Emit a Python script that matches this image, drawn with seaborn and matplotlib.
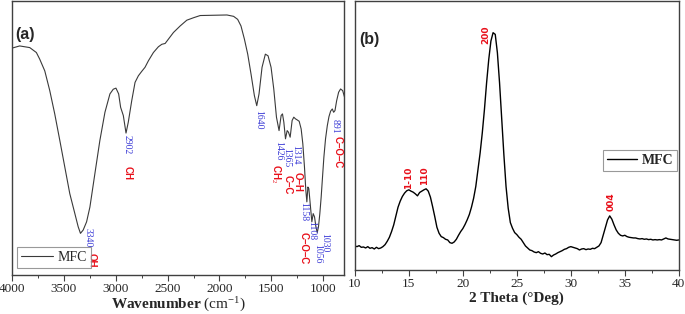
import matplotlib
matplotlib.use("Agg")
import matplotlib.pyplot as plt
from matplotlib.ticker import MultipleLocator
import seaborn as sns
import pandas as pd

# ---------------- data: FTIR (panel a) ----------------
ftir_wavenumber = [4000, 3926, 3829, 3765, 3733, 3684, 3636, 3588, 3539, 3491, 3443, 3394, 3362, 3340,
                   3314, 3281, 3249, 3201, 3153, 3104, 3056, 3024, 2998, 2972, 2953, 2927, 2901, 2879,
                   2846, 2814, 2782, 2750, 2718, 2685, 2637, 2589, 2556, 2524, 2492, 2444, 2379, 2315,
                   2250, 2186, 2057, 1928, 1864, 1825, 1793, 1760, 1728, 1696, 1664, 1641, 1619, 1590,
                   1558, 1532, 1503, 1477, 1451, 1426, 1406, 1393, 1380, 1364, 1348, 1335, 1319, 1300,
                   1284, 1268, 1251, 1232, 1213, 1197, 1181, 1168, 1158, 1148, 1139, 1126, 1110, 1097,
                   1084, 1071, 1058, 1046, 1033, 1020, 1007, 994, 978, 961, 945, 929, 913, 900, 887,
                   871, 852, 833, 813, 794]
ftir_transmittance = [82.8, 83.6, 83.0, 81.2, 78.8, 74.5, 67.3, 58.8, 49.1, 39.4, 29.7, 22.4, 17.6, 15.2,
                      16.4, 19.4, 24.8, 37.0, 49.1, 59.4, 66.1, 67.8, 68.2, 66.1, 61.2, 58.2, 51.8, 55.8,
                      63.6, 70.3, 72.7, 74.3, 75.8, 78.2, 81.2, 83.3, 84.2, 84.5, 86.1, 88.5, 90.9, 93.0,
                      93.9, 94.7, 94.8, 94.9, 94.4, 93.3, 90.9, 86.1, 80.6, 73.3, 65.5, 61.8, 66.1, 75.8,
                      80.6, 80.0, 75.8, 67.9, 57.6, 52.7, 58.2, 58.8, 55.8, 49.7, 52.7, 52.1, 50.3, 56.4,
                      57.6, 57.0, 56.6, 56.1, 53.3, 47.9, 39.4, 30.9, 26.7, 32.1, 31.5, 26.1, 19.4, 22.4,
                      21.2, 17.6, 15.5, 17.6, 22.4, 28.5, 35.8, 43.0, 49.7, 54.5, 57.8, 59.8, 60.6, 59.4,
                      60.0, 63.6, 66.7, 67.9, 67.3, 64.8]

ftir_peak_labels = ["3340", "2902", "1640", "1426", "1365", "1314", "1158", "1108", "1056", "1030", "891"]
ftir_peak_x = [3262, 2891, 1624, 1432, 1355, 1266, 1189, 1112, 1058, 990, 881]
ftir_peak_y = [13.6, 47.6, 56.8, 45.4, 42.9, 44.0, 23.0, 16.1, 7.8, 11.7, 54.2]

ftir_group_labels = ["OH", "CH", "CH$_2$", "C–C", "O–H", "C–O–C", "C–O–C"]
ftir_group_x = [3232, 2882, 1461, 1345, 1246, 1192, 862]
ftir_group_y = [5.5, 37.4, 37.0, 33.0, 34.0, 9.8, 44.7]

ftir_xticks = [4000, 3500, 3000, 2500, 2000, 1500, 1000]

# ---------------- data: XRD (panel b) ----------------
xrd_two_theta = [10.0, 10.2, 10.4, 10.6, 10.8, 11.0, 11.2, 11.4, 11.6, 11.8,
                 12.0, 12.2, 12.4, 12.6, 12.8, 13.0, 13.2, 13.4, 13.6, 13.8,
                 14.0, 14.2, 14.4, 14.6, 14.8, 15.0, 15.2, 15.4, 15.6, 15.8,
                 16.0, 16.2, 16.4, 16.6, 16.8, 17.0, 17.2, 17.4, 17.6, 17.8,
                 18.0, 18.2, 18.4, 18.6, 18.8, 19.0, 19.2, 19.4, 19.6, 19.8,
                 20.0, 20.2, 20.4, 20.6, 20.8, 21.0, 21.2, 21.4, 21.6, 21.8,
                 22.0, 22.2, 22.4, 22.6, 22.8, 23.0, 23.2, 23.4, 23.6, 23.8,
                 24.0, 24.2, 24.4, 24.6, 24.8, 25.0, 25.2, 25.4, 25.6, 25.8,
                 26.0, 26.2, 26.4, 26.6, 26.8, 27.0, 27.2, 27.4, 27.6, 27.8,
                 28.0, 28.2, 28.4, 28.6, 28.8, 29.0, 29.2, 29.4, 29.6, 29.8,
                 30.0, 30.2, 30.4, 30.6, 30.8, 31.0, 31.2, 31.4, 31.6, 31.8,
                 32.0, 32.2, 32.4, 32.6, 32.8, 33.0, 33.2, 33.4, 33.6, 33.8,
                 34.0, 34.2, 34.4, 34.6, 34.8, 35.0, 35.2, 35.4, 35.6, 35.8,
                 36.0, 36.2, 36.4, 36.6, 36.8, 37.0, 37.2, 37.4, 37.6, 37.8,
                 38.0, 38.2, 38.4, 38.6, 38.8, 39.0, 39.2, 39.4, 39.6, 39.8,
                 40.0]
xrd_intensity = [72, 70, 73, 68, 69, 66, 70, 65, 67, 63,
                 68, 64, 66, 70, 76, 86, 98, 115, 135, 162,
                 188, 206, 220, 230, 237, 240, 236, 233, 228, 222,
                 232, 236, 240, 243, 236, 218, 190, 160, 128, 110,
                 100, 97, 92, 90, 82, 80, 84, 92, 104, 115,
                 124, 136, 150, 166, 188, 215, 250, 300, 350, 410,
                 480, 560, 630, 685, 710, 705, 650, 560, 450, 345,
                 250, 185, 142, 125, 112, 106, 98, 92, 82, 72,
                 66, 60, 58, 54, 52, 55, 50, 48, 51, 46,
                 47, 40, 45, 48, 52, 55, 58, 62, 64, 68,
                 70, 68, 66, 64, 60, 63, 64, 61, 63, 62,
                 65, 64, 68, 72, 82, 105, 128, 150, 162, 152,
                 135, 120, 110, 104, 102, 104, 100, 98, 97, 96,
                 96, 94, 93, 94, 92, 93, 91, 92, 90, 91,
                 90, 91, 90, 93, 96, 93, 92, 91, 90, 89,
                 90]

xrd_peak_labels = ["1-10", "110", "200", "004"]
xrd_peak_x = [14.94, 16.5, 22.1, 33.77]
xrd_peak_y = [275, 282, 705, 203]

xrd_xticks = [10, 15, 20, 25, 30, 35, 40]

# ---------------- style ----------------
sns.set_theme(style="ticks")
plt.rcParams["font.family"] = ["Liberation Serif", "DejaVu Sans"]
plt.rcParams["mathtext.fontset"] = "custom"
plt.rcParams["mathtext.rm"] = "Liberation Serif"
plt.rcParams["mathtext.bf"] = "Liberation Serif:bold"
plt.rcParams["mathtext.it"] = "Liberation Serif:italic"
plt.rcParams["mathtext.sf"] = "Liberation Sans:bold"

fig = plt.figure(figsize=(6.85, 3.14), dpi=100)
fig.patch.set_facecolor("white")
axa = fig.add_axes([0.0175, 0.1242, 0.4847, 0.8726])
axb = fig.add_axes([0.518, 0.140, 0.473, 0.857])

df_a = pd.DataFrame({"wn": ftir_wavenumber, "T": ftir_transmittance})
df_b = pd.DataFrame({"tt": xrd_two_theta, "I": xrd_intensity})

sns.lineplot(data=df_a, x="wn", y="T", ax=axa, sort=False, estimator=None,
             color="#3a3a3a", linewidth=0.8, label="MFC")
sns.lineplot(data=df_b, x="tt", y="I", ax=axb, sort=False, estimator=None,
             color="black", linewidth=1.0, label="MFC")

spine_col = "#404040"
for ax in (axa, axb):
    ax.set_facecolor("white")
    for s in ax.spines.values():
        s.set_visible(True)
        s.set_color(spine_col)
        s.set_linewidth(1.0)
    ax.set_yticks([])
    ax.set_ylabel("")
    ax.tick_params(axis="x", which="major", direction="out", length=4, width=0.8,
                   color=spine_col, labelsize=9.5, pad=1.5)
    ax.tick_params(axis="x", which="minor", direction="out", length=2.5, width=0.7,
                   color=spine_col)

# panel a
axa.set_xlim(4000, 800)
axa.set_ylim(0, 100)
axa.set_xticks(ftir_xticks)
axa.set_xticklabels([str(t) for t in ftir_xticks])
axa.xaxis.set_minor_locator(MultipleLocator(250))
axa.set_xlabel(r"$\mathbf{Wavenumber}$ (cm$^{-1}$)", fontsize=11, labelpad=1)

for lab, x, y in zip(ftir_peak_labels, ftir_peak_x, ftir_peak_y):
    axa.text(x, y, lab, rotation=-90, ha="center", va="center", fontsize=7,
             color="#3b3bd6", family=["Liberation Serif"])
for lab, x, y in zip(ftir_group_labels, ftir_group_x, ftir_group_y):
    axa.text(x, y, lab, rotation=-90, ha="center", va="center", fontsize=7,
             color="#e8101a", family=["Liberation Sans"], weight="bold")

axa.text(0.009, 0.876, "(a)", transform=axa.transAxes, fontsize=11.5, weight="bold",
         family=["Liberation Sans"], ha="left", va="center")
leg_a = axa.legend(loc="lower left", bbox_to_anchor=(0.015, 0.026), borderaxespad=0,
                   frameon=True, fancybox=False, edgecolor="#808080", handlelength=2.3,
                   handletextpad=0.3, borderpad=0.3, prop={"family": "Liberation Serif", "size": 10})
leg_a.get_frame().set_linewidth(0.8)

# panel b
axb.set_xlim(10, 40)
axb.set_ylim(0, 805)
axb.set_xticks(xrd_xticks)
axb.set_xticklabels([str(t) for t in xrd_xticks])
axb.xaxis.set_minor_locator(MultipleLocator(2.5))
axb.set_xlabel("2 Theta (°Deg)", fontsize=11, weight="bold", labelpad=1)

for lab, x, y in zip(xrd_peak_labels, xrd_peak_x, xrd_peak_y):
    axb.text(x, y, lab, rotation=90, ha="center", va="center", fontsize=6.5,
             color="#e8101a", family=["DejaVu Sans"], weight="bold")

axb.text(0.015, 0.855, "(b)", transform=axb.transAxes, fontsize=11.5, weight="bold",
         family=["Liberation Sans"], ha="left", va="center")
leg_b = axb.legend(loc="lower left", bbox_to_anchor=(0.765, 0.368), borderaxespad=0,
                   frameon=True, fancybox=False, edgecolor="#808080", handlelength=2.2,
                   handletextpad=0.3, borderpad=0.3,
                   prop={"family": "Liberation Serif", "size": 10, "weight": "bold"})
leg_b.get_frame().set_linewidth(0.8)

fig.savefig("out.png", dpi=100, facecolor="white")
